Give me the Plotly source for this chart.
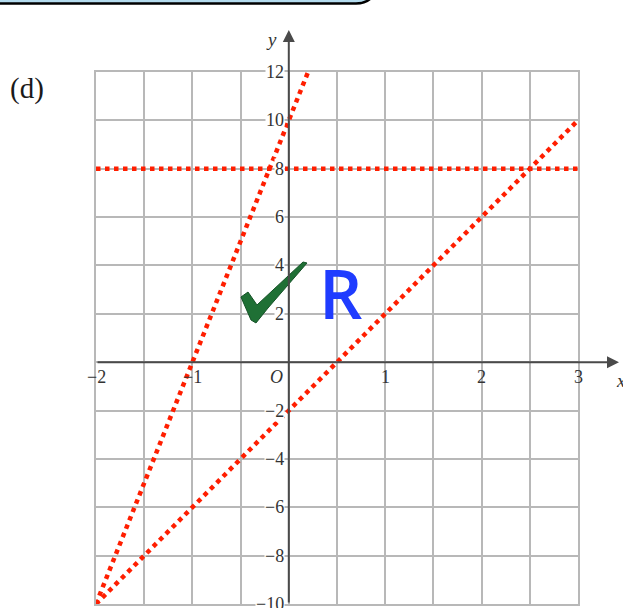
import plotly.graph_objects as go

W, H = 623, 608

# dotted boundary lines (end points)
steep_x = [-2, 0.2]
steep_y = [-10, 12]
slant_x = [-2, 3]
slant_y = [-10, 10]
flat_x = [-2, 3]
flat_y = [8, 8]

x_ticks = [-2, -1, 1, 2, 3]
x_tick_text = ["\u22122", "\u22121", "1", "2", "3"]
y_ticks = [12, 10, 8, 6, 4, 2, -2, -4, -6, -8, -10]
y_tick_text = ["12", "10", "8", "6", "4", "2", "\u22122", "\u22124", "\u22126", "\u22128", "\u221210"]

RED = "#ff1e00"
GRID = "#b8b8b8"
AXIS = "#4a4a4a"
SERIF = "Liberation Serif"


def px(x):
    return x / W


def py(y):
    return 1 - y / H


def path(points):
    s = "M " + " L ".join(f"{px(a):.4f},{py(b):.4f}" for a, b in points)
    return s + " Z"


fig = go.Figure()

for xs, ys in [(steep_x, steep_y), (slant_x, slant_y), (flat_x, flat_y)]:
    fig.add_trace(go.Scatter(x=xs, y=ys, mode="lines",
                             line=dict(color=RED, width=4.5, dash="dot"),
                             showlegend=False, hoverinfo="skip"))

fig.update_xaxes(range=[-2, 3], domain=[px(96), px(578)], dtick=0.5, tick0=0,
                 showticklabels=False, showgrid=True, gridcolor=GRID, gridwidth=2,
                 zeroline=False, showline=True, linecolor=GRID, linewidth=2, mirror=True,
                 ticks="")
fig.update_yaxes(range=[-10, 12], domain=[1 - 604 / H, 1 - 72 / H], dtick=2, tick0=0,
                 showticklabels=False, showgrid=True, gridcolor=GRID, gridwidth=2,
                 zeroline=False, showline=True, linecolor=GRID, linewidth=2, mirror=True,
                 ticks="")

ann = []
# axes with arrow heads
ann.append(dict(x=px(619), y=0, xref="paper", yref="y", ax=-(619 - 96), ay=0,
                showarrow=True, arrowhead=2, arrowsize=1.2, arrowwidth=2,
                arrowcolor=AXIS, text="", standoff=0))
ann.append(dict(x=0, y=py(30), xref="x", yref="paper", ax=0, ay=604 - 30,
                showarrow=True, arrowhead=2, arrowsize=1.2, arrowwidth=2,
                arrowcolor=AXIS, text="", standoff=0))

for v, t in zip(y_ticks, y_tick_text):
    ann.append(dict(x=px(285), y=v, xref="paper", yref="y", text=t, showarrow=False,
                    xanchor="right", yanchor="middle", bgcolor="white", borderpad=0,
                    font=dict(family=SERIF, size=18, color="#333333")))
for v, t in zip(x_ticks, x_tick_text):
    ann.append(dict(x=v, y=py(377), xref="x", yref="paper", text=t, showarrow=False,
                    xanchor="center", yanchor="middle",
                    font=dict(family=SERIF, size=18, color="#333333")))

ann.append(dict(x=px(276), y=py(377), xref="paper", yref="paper", text="<i>O</i>",
                showarrow=False, font=dict(family=SERIF, size=18, color="#333333")))
ann.append(dict(x=px(614), y=py(380), xref="paper", yref="paper", text="<i>x</i>",
                showarrow=False, xanchor="left", font=dict(family=SERIF, size=19, color="#333333")))
ann.append(dict(x=px(271), y=py(27), xref="paper", yref="paper", text="<i>y</i>",
                showarrow=False, font=dict(family=SERIF, size=19, color="#333333")))
ann.append(dict(x=px(8), y=py(70), xref="paper", yref="paper", text="(d)",
                showarrow=False, xanchor="left", font=dict(family=SERIF, size=29, color="#1a1a1a")))
ann.append(dict(x=px(340), y=py(292), xref="paper", yref="paper", text="R",
                showarrow=False, font=dict(family="Open Sans", size=68, color="#1f3cff", weight=600)))

shapes = [
    # banner box cut off at the top
    dict(type="path", xref="paper", yref="paper",
         path=f"M {px(-5):.4f},{py(-10):.4f} L {px(-5):.4f},{py(3.5):.4f} L {px(356):.4f},{py(3.5):.4f} "
              f"Q {px(371):.4f},{py(3.5):.4f} {px(376):.4f},{py(-10):.4f} Z",
         fillcolor="#b3dbee", line=dict(color="black", width=2.5)),
    # green tick
    dict(type="path", xref="paper", yref="paper",
         path=path([(241, 297), (248, 292), (257, 305), (303, 262), (307, 263),
                    (268, 308), (256, 323), (251, 320)]),
         fillcolor="#1f7035", line=dict(color="#155227", width=1)),
]

fig.update_layout(width=W, height=H, margin=dict(l=0, r=0, t=0, b=0),
                  paper_bgcolor="white", plot_bgcolor="white",
                  annotations=ann, shapes=shapes)

# the page body has a default 8px margin; drop it so the figure sits at the corner
fig.write_html("out.html", config={"displayModeBar": False},
               post_script="document.body.style.margin='0';")
